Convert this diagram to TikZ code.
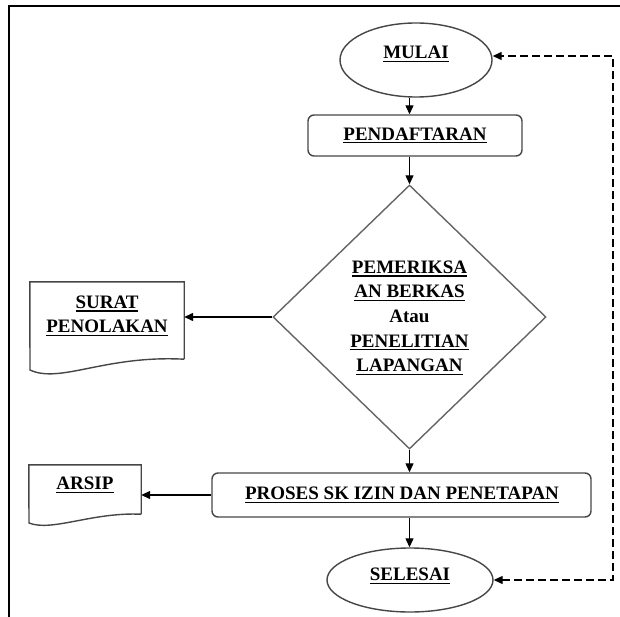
\documentclass[tikz,border=0pt]{standalone}
\usepackage{fontspec}
\setmainfont{Liberation Serif}
\usetikzlibrary{shapes.geometric,arrows.meta}
\definecolor{edgegray}{RGB}{70,70,70}
\definecolor{diagray}{RGB}{100,100,100}
\newcommand\ulx[1]{\vtop{\hbox{#1}\kern1.8pt\hrule height 1.4pt}}
\begin{document}
\begin{tikzpicture}[x=1pt,y=-1pt,
  lbl/.style={font=\fontsize{19}{24.6}\selectfont\bfseries, align=center, inner sep=0pt},
  shp/.style={draw=edgegray, line width=1.4pt},
  term/.style={shp, ellipse, inner sep=0pt},
  procbox/.style={shp, rectangle, rounded corners=6pt, inner sep=0pt},
  ghost/.style={rectangle, inner sep=0pt},
  arr/.style={draw=black, line width=1.3pt, -{Triangle[length=9pt,width=8pt]}},
  darr/.style={draw=black, line width=1.3pt, dash pattern=on 8pt off 4pt,
    {Triangle[length=9pt,width=8pt]}-{Triangle[length=9pt,width=8pt]}}]
\useasboundingbox (0,0) rectangle (620,617);
% frame
\draw[line width=2.4pt] (9,617) -- (9,6) -- (620,6);

% nodes
\node[term, minimum width=152pt, minimum height=74pt] (mulai) at (416,60) {};
\node[lbl] (mulaiT) at (416,54) {\ulx{MULAI}};

\node[procbox, minimum width=214pt, minimum height=41pt] (pend) at (415,135.5) {};
\node[lbl] (pendT) at (415,135.5) {\ulx{PENDAFTARAN}};

\node[diamond, draw=diagray, line width=1.4pt, minimum width=273pt, minimum height=264pt, inner sep=0pt] (dia) at (409.5,317) {};
\node[lbl] (diaT) at (409.5,318) {\ulx{PEMERIKSA}\\\ulx{AN BERKAS}\\Atau\\\ulx{PENELITIAN}\\\ulx{LAPANGAN}};

\node[ghost, minimum width=154pt, minimum height=77pt] (surat) at (107,320.5) {};
\node[lbl] (suratT) at (107,316) {\ulx{SURAT}\\\ulx{PENOLAKAN}};
\draw[shp] (surat.south east) -- (surat.north east) -- (surat.north west) -- (30,370)
  .. controls (60,384) and (105,355) .. (surat.south east);

\node[procbox, minimum width=379pt, minimum height=44pt] (proses) at (401.5,495) {};
\node[lbl] (prosesT) at (402,495) {\ulx{PROSES SK IZIN DAN PENETAPAN}};

\node[ghost, minimum width=112pt, minimum height=49pt] (arsip) at (85,489.5) {};
\node[lbl] (arsipT) at (85,485) {\ulx{ARSIP}};
\draw[shp] (arsip.south east) -- (arsip.north east) -- (arsip.north west) -- (29,523)
  .. controls (52,532) and (92,512) .. (arsip.south east);

\node[term, minimum width=166pt, minimum height=64pt] (selesai) at (410,580) {};
\node[lbl] (selesaiT) at (410,576) {\ulx{SELESAI}};

\coordinate (cr) at (613,56);

% connectors
\draw[arr] (mulai.south -| dia.north) -- (pend.north -| dia.north);
\draw[arr] (pend.south -| dia.north) -- (dia.north);
\draw[arr] (dia.west) -- (dia.west -| surat.east);
\draw[arr] (dia.south) -- (proses.north -| dia.south);
\draw[arr] (proses.west) -- (proses.west -| arsip.east);
\draw[arr] (proses.south -| dia.south) -- (selesai.north -| dia.south);
\draw[darr] (selesai.east) -- (selesai.east -| cr) -- (cr) -- ([yshift=4pt]mulai.east);
\end{tikzpicture}
\end{document}
